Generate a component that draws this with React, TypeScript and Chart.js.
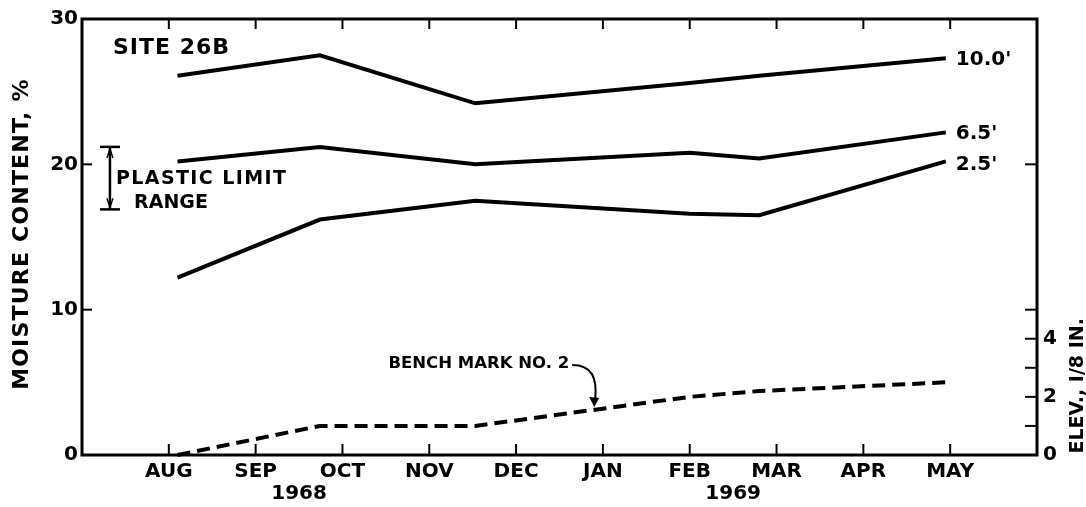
import React, { useEffect, useRef } from "react";
import { Chart, registerables } from "chart.js";

Chart.register(...registerables);

// ---- data ----
const MONTHS = ["AUG", "SEP", "OCT", "NOV", "DEC", "JAN", "FEB", "MAR", "APR", "MAY"];
const MONTH_POS = [0, 1, 2, 3, 4, 5, 6, 7, 8, 9];
const YEARS = ["1968", "1969"];
const YEAR_POS = [1.5, 6.5];
// sample dates as month index (0 = AUG 1968)
const SAMPLE_DATES = [0.1, 1.74, 3.53, 6.0, 6.8, 8.95];
const DEPTH_10_0 = [26.1, 27.5, 24.2, 25.6, 26.1, 27.3];
const DEPTH_6_5 = [20.2, 21.2, 20.0, 20.8, 20.4, 22.2];
const DEPTH_2_5 = [12.2, 16.2, 17.5, 16.6, 16.5, 20.2];
const BENCH_MARK = [0, 1.0, 1.0, 2.0, 2.2, 2.5]; // elevation, 1/8 in.
const DEPTH_LABELS = ["10.0'", "6.5'", "2.5'"];
const MOISTURE_TICKS = [0, 10, 20, 30];
const ELEV_TICKS = [0, 2, 4];
const ELEV_MINOR_TICKS = [1, 2, 3, 4, 5, 10];
const PLASTIC_LIMIT_RANGE = [16.9, 21.2];

const FONT = '"DejaVu Sans", sans-serif';

const toPoints = (vals: number[]) => SAMPLE_DATES.map((d, i) => ({ x: d, y: vals[i] }));

const decorPlugin = {
  id: "decor",
  afterDraw(chart: any) {
    const { ctx, chartArea: a, scales } = chart;
    const x = scales.x, y = scales.y, y2 = scales.y2;
    const line = (x1: number, y1: number, x2: number, y2p: number) => {
      ctx.beginPath();
      ctx.moveTo(x1, y1);
      ctx.lineTo(x2, y2p);
      ctx.stroke();
    };
    ctx.save();
    ctx.strokeStyle = "#000";
    ctx.fillStyle = "#000";
    ctx.lineCap = "butt";
    // frame
    ctx.lineWidth = 3;
    ctx.strokeRect(a.left, a.top, a.right - a.left, a.bottom - a.top);
    // ticks
    ctx.lineWidth = 2;
    MONTH_POS.forEach((m) => {
      const px = x.getPixelForValue(m);
      line(px, a.top, px, a.top + 10);
      line(px, a.bottom, px, a.bottom - 11);
    });
    [10, 20].forEach((v) => {
      const py = y.getPixelForValue(v);
      line(a.left, py, a.left + 10, py);
    });
    ELEV_MINOR_TICKS.forEach((v) => {
      const py = y2.getPixelForValue(v);
      line(a.right, py, a.right - 12, py);
    });

    ctx.textAlign = "center";
    ctx.textBaseline = "middle";

    // left axis title
    ctx.save();
    ctx.translate(22, y.getPixelForValue(15.2));
    ctx.rotate(-Math.PI / 2);
    ctx.font = `bold 22px ${FONT}`;
    (ctx as any).letterSpacing = "1.2px";
    ctx.fillText("MOISTURE CONTENT, %", 0, 0);
    ctx.restore();

    // years
    ctx.font = `bold 20px ${FONT}`;
    YEARS.forEach((t, i) => ctx.fillText(t, x.getPixelForValue(YEAR_POS[i]), a.bottom + 39));

    // right axis title
    ctx.save();
    ctx.translate(1078, y2.getPixelForValue(2.38));
    ctx.rotate(-Math.PI / 2);
    ctx.font = `bold 19px ${FONT}`;
    ctx.fillText("ELEV., I/8 IN.", 0, 0);
    ctx.restore();

    // site label
    ctx.textAlign = "left";
    ctx.font = `bold 22px ${FONT}`;
    (ctx as any).letterSpacing = "1px";
    ctx.fillText("SITE 26B", x.getPixelForValue(-0.644), y.getPixelForValue(28.0));

    // plastic limit range bar
    const bx = x.getPixelForValue(-0.678);
    const top = y.getPixelForValue(PLASTIC_LIMIT_RANGE[1]);
    const bot = y.getPixelForValue(PLASTIC_LIMIT_RANGE[0]);
    ctx.lineWidth = 2.5;
    line(bx, top, bx, bot);
    line(bx - 10, top, bx + 10, top);
    line(bx - 10, bot, bx + 10, bot);
    ctx.lineWidth = 1.5;
    ctx.beginPath();
    ctx.moveTo(bx - 3, top + 11);
    ctx.lineTo(bx, top + 2);
    ctx.lineTo(bx + 3, top + 11);
    ctx.moveTo(bx - 3, bot - 11);
    ctx.lineTo(bx, bot - 2);
    ctx.lineTo(bx + 3, bot - 11);
    ctx.stroke();
    ctx.font = `bold 19px ${FONT}`;
    (ctx as any).letterSpacing = "1.4px";
    ctx.fillText("PLASTIC LIMIT", x.getPixelForValue(-0.609), y.getPixelForValue(19.0));
    (ctx as any).letterSpacing = "0px";
    ctx.fillText("RANGE", x.getPixelForValue(-0.4), y.getPixelForValue(17.35));

    // depth labels
    ctx.font = `bold 20px ${FONT}`;
    const lastIdx = SAMPLE_DATES.length - 1;
    const lx = x.getPixelForValue(SAMPLE_DATES[lastIdx]) + 10;
    const ends = [DEPTH_10_0[lastIdx], DEPTH_6_5[lastIdx], DEPTH_2_5[lastIdx]];
    const offs = [2, 1, 3.5];
    DEPTH_LABELS.forEach((t, i) => ctx.fillText(t, lx, y.getPixelForValue(ends[i]) + offs[i]));

    // bench mark label + arrow
    ctx.font = `bold 16.5px ${FONT}`;
    const tx = x.getPixelForValue(2.53);
    const ty = y2.getPixelForValue(3.13);
    const label = "BENCH MARK NO. 2";
    ctx.fillText(label, tx, ty);
    const w = ctx.measureText(label).width;
    const sx = tx + w + 3;
    const tipX = x.getPixelForValue(4.9);
    const tipY = y2.getPixelForValue(1.55) - 3;
    ctx.lineWidth = 2;
    ctx.beginPath();
    ctx.moveTo(sx, ty + 1);
    ctx.bezierCurveTo(sx + 20, ty + 1, tipX + 3, ty + 14, tipX + 1, tipY - 8);
    ctx.stroke();
    ctx.beginPath();
    ctx.moveTo(tipX - 5, tipY - 10);
    ctx.lineTo(tipX, tipY);
    ctx.lineTo(tipX + 5, tipY - 9);
    ctx.closePath();
    ctx.fill();
    ctx.restore();
  },
};

export default function App() {
  const ref = useRef<HTMLCanvasElement | null>(null);
  useEffect(() => {
    if (!ref.current) return;
    const solid = (vals: number[], label: string) => ({
      label,
      data: toPoints(vals),
      borderColor: "#000",
      borderWidth: 4,
      pointRadius: 0,
      tension: 0,
      clip: false as any,
      yAxisID: "y",
    });
    const chart = new Chart(ref.current, {
      type: "line",
      data: {
        datasets: [
          solid(DEPTH_10_0, DEPTH_LABELS[0]),
          solid(DEPTH_6_5, DEPTH_LABELS[1]),
          solid(DEPTH_2_5, DEPTH_LABELS[2]),
          {
            label: "BENCH MARK NO. 2",
            data: toPoints(BENCH_MARK),
            borderColor: "#000",
            borderWidth: 4,
            borderDash: [13, 7],
            pointRadius: 0,
            tension: 0,
            clip: false as any,
            yAxisID: "y2",
          },
        ],
      },
      options: {
        animation: false,
        responsive: false,
        layout: { padding: { top: 19, left: 0, right: 0, bottom: 0 } },
        plugins: { legend: { display: false }, tooltip: { enabled: false } },
        scales: {
          x: {
            type: "linear",
            min: -1,
            max: 10,
            grid: { display: false, drawTicks: false },
            border: { display: false },
            afterBuildTicks: (s: any) => {
              s.ticks = MONTH_POS.map((v) => ({ value: v }));
            },
            afterFit: (s: any) => {
              s.height = 52;
            },
            ticks: {
              autoSkip: false,
              maxRotation: 0,
              padding: 5,
              color: "#000",
              font: { family: FONT, size: 20, weight: "bold" },
              callback: (v: any) => MONTHS[MONTH_POS.indexOf(Number(v))] ?? "",
            },
          },
          y: {
            position: "left",
            min: 0,
            max: 30,
            grid: { display: false, drawTicks: false },
            border: { display: false },
            afterBuildTicks: (s: any) => {
              s.ticks = MOISTURE_TICKS.map((v) => ({ value: v }));
            },
            afterFit: (s: any) => {
              s.width = 82;
            },
            ticks: {
              padding: 4,
              color: "#000",
              font: { family: FONT, size: 20, weight: "bold" },
            },
          },
          y2: {
            position: "right",
            min: 0,
            max: 15,
            grid: { display: false, drawTicks: false },
            border: { display: false },
            afterBuildTicks: (s: any) => {
              s.ticks = ELEV_TICKS.map((v) => ({ value: v }));
            },
            afterFit: (s: any) => {
              s.width = 49;
            },
            ticks: {
              padding: 6,
              color: "#000",
              font: { family: FONT, size: 20, weight: "bold" },
            },
          },
        },
      } as any,
      plugins: [decorPlugin],
    });
    return () => chart.destroy();
  }, []);
  return (
    <div style={{ position: "fixed", left: 0, top: 0, width: 1086, height: 507, background: "#fff" }}>
      <canvas ref={ref} width={1086} height={507} />
    </div>
  );
}
